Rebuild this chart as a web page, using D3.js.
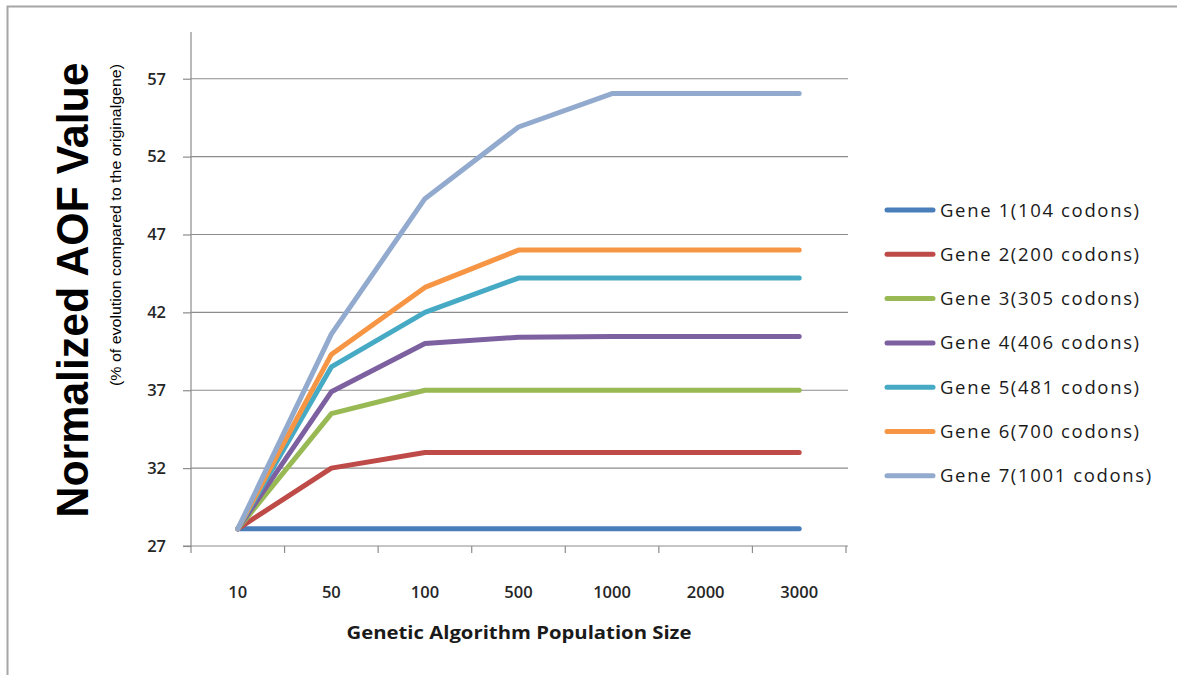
<!DOCTYPE html>
<html>
<head>
<meta charset="utf-8">
<script src="https://cdn.jsdelivr.net/npm/d3@7"></script>
<style>
  html, body { margin: 0; padding: 0; background: #fff; }
  svg { display: block; }
</style>
</head>
<body>
<svg id="chart" width="1177" height="675"></svg>
<script>
// Population sizes tested (categorical x axis)
const populations = ["10", "50", "100", "500", "1000", "2000", "3000"];

// Normalized AOF value per gene at each population size
const gene1 = [28.1, 28.1, 28.1, 28.1, 28.1, 28.1, 28.1];
const gene2 = [28.1, 32.0, 33.0, 33.0, 33.0, 33.0, 33.0];
const gene3 = [28.1, 35.5, 37.0, 37.0, 37.0, 37.0, 37.0];
const gene4 = [28.1, 36.9, 40.0, 40.4, 40.45, 40.45, 40.45];
const gene5 = [28.1, 38.5, 42.0, 44.2, 44.2, 44.2, 44.2];
const gene6 = [28.1, 39.3, 43.6, 46.0, 46.0, 46.0, 46.0];
const gene7 = [28.1, 40.6, 49.3, 53.9, 56.05, 56.05, 56.05];

const seriesNames = [
  "Gene 1(104 codons)", "Gene 2(200 codons)", "Gene 3(305 codons)",
  "Gene 4(406 codons)", "Gene 5(481 codons)", "Gene 6(700 codons)",
  "Gene 7(1001 codons)"
];
const seriesValues = [gene1, gene2, gene3, gene4, gene5, gene6, gene7];
const seriesColors = ["#4A7EBB", "#BE4B48", "#98B954", "#7D60A0", "#46AAC5", "#F69544", "#93AACF"];

const yTicks = [27, 32, 37, 42, 47, 52, 57];

const svg = d3.select("#chart");
const W = 1177, H = 675;

// Outer chart frame
svg.append("rect")
  .attr("x", 7.5).attr("y", 6.5)
  .attr("width", W + 10).attr("height", H + 10)
  .attr("fill", "#fff")
  .attr("stroke", "#a6a6a6").attr("stroke-width", 2);

const plot = { left: 191, right: 846, top: 32, bottom: 546 };

const x = d3.scaleBand()
  .domain(populations)
  .range([plot.left, plot.right])
  .paddingInner(0).paddingOuter(0);

const y = d3.scaleLinear()
  .domain([27, 60])
  .range([plot.bottom, plot.top]);

const fontUI = "'Open Sans', 'Liberation Sans', sans-serif";

// Horizontal gridlines
svg.append("g")
  .selectAll("line")
  .data(yTicks.filter(d => d !== 27))
  .join("line")
  .attr("x1", plot.left).attr("x2", plot.right + 2)
  .attr("y1", d => y(d)).attr("y2", d => y(d))
  .attr("stroke", "#8c8c8c").attr("stroke-width", 1.2);

// Y axis
const yAxis = d3.axisLeft(y).tickValues(yTicks).tickSize(8).tickPadding(17);
const gy = svg.append("g")
  .attr("transform", `translate(${plot.left},0)`)
  .call(yAxis);
gy.select(".domain").attr("stroke", "#8c8c8c").attr("stroke-width", 1.2)
  .attr("d", `M-8,${y(27)}H0V${plot.top}`);
gy.selectAll(".tick line").attr("stroke", "#8c8c8c").attr("stroke-width", 1.2);
gy.selectAll(".tick text")
  .attr("fill", "#262626")
  .style("font-family", fontUI)
  .style("font-size", "16.5px")
  .style("font-weight", "600");

// X axis with tick marks on band boundaries
const gx = svg.append("g")
  .attr("transform", `translate(0,${plot.bottom})`);
gx.append("line")
  .attr("x1", plot.left).attr("x2", plot.right + 2)
  .attr("y1", 0).attr("y2", 0)
  .attr("stroke", "#8c8c8c").attr("stroke-width", 1.2);
const bounds = populations.map(p => x(p)).concat([x(populations[populations.length - 1]) + x.bandwidth()]);
gx.selectAll("line.tk")
  .data(bounds)
  .join("line")
  .attr("class", "tk")
  .attr("x1", d => d).attr("x2", d => d)
  .attr("y1", 0).attr("y2", 7)
  .attr("stroke", "#8c8c8c").attr("stroke-width", 1.2);
gx.selectAll("text")
  .data(populations)
  .join("text")
  .attr("x", d => x(d) + x.bandwidth() / 2)
  .attr("y", 52)
  .attr("text-anchor", "middle")
  .attr("fill", "#262626")
  .style("font-family", fontUI)
  .style("font-size", "16.5px")
  .style("font-weight", "600")
  .text(d => d);

// X axis title
svg.append("text")
  .attr("x", 519).attr("y", 639)
  .attr("text-anchor", "middle")
  .attr("fill", "#1a1a1a")
  .attr("textLength", 345)
  .attr("lengthAdjust", "spacingAndGlyphs")
  .style("font-family", fontUI)
  .style("font-size", "17.5px")
  .style("font-weight", "700")
  .text("Genetic Algorithm Population Size");

// Y axis titles
svg.append("text")
  .attr("transform", "translate(88,290) rotate(-90)")
  .attr("text-anchor", "middle")
  .attr("fill", "#000")
  .attr("textLength", 455)
  .attr("lengthAdjust", "spacingAndGlyphs")
  .style("font-family", "'Liberation Sans', Arial, sans-serif")
  .style("font-size", "44px")
  .style("font-weight", "700")
  .text("Normalized AOF Value");

svg.append("text")
  .attr("transform", "translate(121,225) rotate(-90)")
  .attr("text-anchor", "middle")
  .attr("fill", "#000")
  .attr("textLength", 322)
  .attr("lengthAdjust", "spacingAndGlyphs")
  .style("font-family", "'Liberation Sans', Arial, sans-serif")
  .style("font-size", "14px")
  .text("(% of evolution  compared to the originalgene)");

// Series lines
const line = d3.line()
  .x((d, i) => x(populations[i]) + x.bandwidth() / 2)
  .y(d => y(d));

svg.append("g")
  .selectAll("path")
  .data(seriesValues)
  .join("path")
  .attr("d", d => line(d))
  .attr("fill", "none")
  .attr("stroke", (d, i) => seriesColors[i])
  .attr("stroke-width", 5)
  .attr("stroke-linejoin", "round")
  .attr("stroke-linecap", "round");

// Legend
const legend = svg.append("g").attr("transform", "translate(887,210)");
const rows = legend.selectAll("g")
  .data(seriesNames)
  .join("g")
  .attr("transform", (d, i) => `translate(0,${i * 44.3})`);
rows.append("line")
  .attr("x1", 0).attr("x2", 46)
  .attr("y1", 0).attr("y2", 0)
  .attr("stroke", (d, i) => seriesColors[i])
  .attr("stroke-width", 5)
  .attr("stroke-linecap", "round");
rows.append("text")
  .attr("x", 53).attr("y", 6.5)
  .attr("fill", "#1a1a1a")
  .style("font-family", fontUI)
  .style("font-size", "18.5px")
  .style("letter-spacing", "1.65px")
  .text(d => d);
</script>
</body>
</html>
